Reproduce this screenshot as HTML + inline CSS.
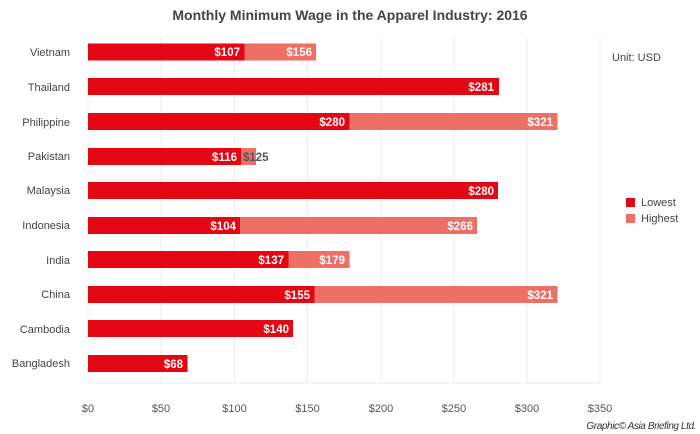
<!DOCTYPE html>
<html><head><meta charset="utf-8"><style>body{margin:0;background:#fff}svg{display:block}text{font-family:"Liberation Sans",sans-serif}</style></head><body>
<svg width="700" height="434" xmlns="http://www.w3.org/2000/svg">
<rect width="700" height="434" fill="#fff"/>
<text x="350" y="20" text-anchor="middle" font-size="14" font-weight="bold" fill="#444">Monthly Minimum Wage in the Apparel Industry: 2016</text>
<g stroke="#eeeeee" stroke-width="1">
<line x1="88" y1="38" x2="88" y2="383"/><line x1="161" y1="38" x2="161" y2="383"/><line x1="234.5" y1="38" x2="234.5" y2="383"/><line x1="307.5" y1="38" x2="307.5" y2="383"/><line x1="381" y1="38" x2="381" y2="383"/><line x1="454" y1="38" x2="454" y2="383"/><line x1="527" y1="38" x2="527" y2="383"/><line x1="600" y1="38" x2="600" y2="383"/>
<line x1="88" y1="383" x2="600" y2="383"/>
</g>
<g font-size="11" fill="#555" text-anchor="middle">
<text x="88" y="412">$0</text><text x="161" y="412">$50</text><text x="234.5" y="412">$100</text><text x="307.5" y="412">$150</text><text x="381" y="412">$200</text><text x="454" y="412">$250</text><text x="527" y="412">$300</text><text x="600" y="412">$350</text>
</g>
<g font-size="11" fill="#444" text-anchor="end">
<text x="70" y="56">Vietnam</text><text x="70" y="91">Thailand</text><text x="70" y="126">Philippine</text><text x="70" y="160">Pakistan</text><text x="70" y="194">Malaysia</text><text x="70" y="229">Indonesia</text><text x="70" y="264">India</text><text x="70" y="298">China</text><text x="70" y="333">Cambodia</text><text x="70" y="367">Bangladesh</text>
</g>
<g>
<rect x="88" y="43.5" width="228" height="17" fill="#ee6f66"/><rect x="88" y="43.5" width="156.5" height="17" fill="#e30613"/>
<rect x="88" y="78" width="411" height="17" fill="#e30613"/>
<rect x="88" y="113" width="469.5" height="17" fill="#ee6f66"/><rect x="88" y="113" width="261.5" height="17" fill="#e30613"/>
<rect x="88" y="148" width="168" height="17" fill="#ee6f66"/><rect x="88" y="148" width="153" height="17" fill="#e30613"/>
<rect x="88" y="182" width="410" height="17" fill="#e30613"/>
<rect x="88" y="217" width="389" height="17" fill="#ee6f66"/><rect x="88" y="217" width="152" height="17" fill="#e30613"/>
<rect x="88" y="251" width="261.5" height="17" fill="#ee6f66"/><rect x="88" y="251" width="200.5" height="17" fill="#e30613"/>
<rect x="88" y="286" width="469.5" height="17" fill="#ee6f66"/><rect x="88" y="286" width="226.5" height="17" fill="#e30613"/>
<rect x="88" y="320" width="205" height="17" fill="#e30613"/>
<rect x="88" y="355" width="99.5" height="17" fill="#e30613"/>
</g>
<g font-size="11.5" font-weight="bold" fill="#fff" text-anchor="end">
<text x="240" y="56">$107</text><text x="312" y="56">$156</text>
<text x="494" y="91">$281</text>
<text x="345" y="126">$280</text><text x="553" y="126">$321</text>
<text x="237" y="161">$116</text>
<text x="494" y="195">$280</text>
<text x="236" y="230">$104</text><text x="473" y="230">$266</text>
<text x="284" y="264">$137</text><text x="345" y="264">$179</text>
<text x="310" y="299">$155</text><text x="553" y="299">$321</text>
<text x="289" y="333">$140</text>
<text x="183" y="368">$68</text>
</g>
<text x="243" y="161" font-size="11.5" font-weight="bold" fill="#555">$125</text>
<text x="612" y="61" font-size="11" fill="#444">Unit: USD</text>
<rect x="626" y="198" width="9" height="9" fill="#e30613"/>
<text x="641" y="206" font-size="11" fill="#444">Lowest</text>
<rect x="626" y="214" width="9" height="9" fill="#ee6f66"/>
<text x="641" y="222" font-size="11" fill="#444">Highest</text>
<text x="696" y="429" text-anchor="end" font-size="10" font-style="italic" fill="#333" letter-spacing="-0.4">Graphic© Asia Briefing Ltd.</text>
</svg>
</body></html>
